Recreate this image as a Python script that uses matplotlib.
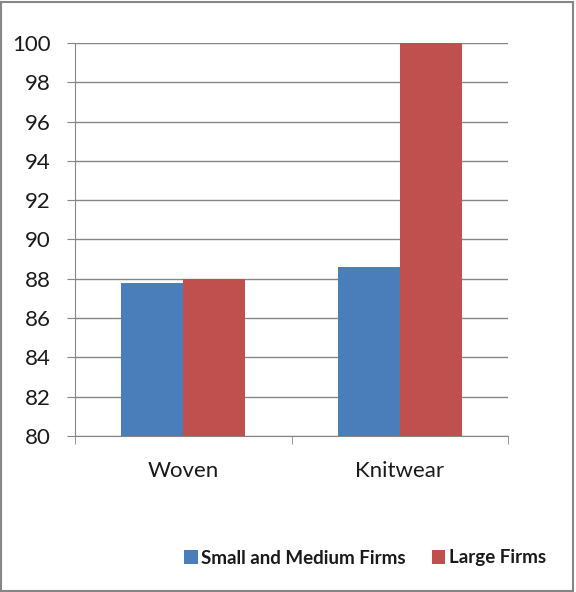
import matplotlib
matplotlib.use("Agg")
import matplotlib.pyplot as plt
import numpy as np

categories = ["Woven", "Knitwear"]
series_names = ["Small and Medium Firms", "Large Firms"]
small_medium = [87.8, 88.6]
large = [88.0, 100.0]
yticks = list(range(80, 101, 2))

colors = ["#4A7EBB", "#C0504D"]

plt.rcParams['font.family'] = ['Lato', 'DejaVu Sans']

fig = plt.figure(figsize=(5.76, 5.92), dpi=100)
W, H = 576, 592
ax = fig.add_axes([75 / W, 1 - 436 / H, (508 - 75) / W, (436 - 43) / H])

x = np.arange(len(categories))
bw = 0.286
ax.bar(x - bw / 2, small_medium, bw, color=colors[0], label=series_names[0], zorder=3)
ax.bar(x + bw / 2, large, bw, color=colors[1], label=series_names[1], zorder=3)

ax.set_xlim(-0.5, 1.5)
ax.set_ylim(80, 100)
ax.set_yticks(yticks)
ax.set_yticklabels([str(v) for v in yticks], fontsize=16, color="#1a1a1a")
ax.yaxis.grid(True, color="#868686", linewidth=1, zorder=0)
ax.set_axisbelow(True)

ax.set_xticks(x)
ax.set_xticklabels(categories, fontsize=16, color="#1a1a1a")
ax.set_xticks([-0.5, 0.5, 1.5], minor=True)
ax.tick_params(axis='x', which='major', length=0, pad=18)
ax.tick_params(axis='x', which='minor', length=5.5, color="#868686", direction='out')
ax.tick_params(axis='y', length=5.5, color="#868686", direction='out', pad=12)

for s in ["top", "right"]:
    ax.spines[s].set_visible(False)
for s in ["left", "bottom"]:
    ax.spines[s].set_color("#868686")

leg = fig.legend(loc="center right", bbox_to_anchor=(563 / W, 1 - 558 / H), ncol=2,
                 frameon=False, prop={'size': 13.5, 'weight': 'bold'},
                 handlelength=0.7, handleheight=0.7,
                 handletextpad=0.2, columnspacing=1.4)
for t in leg.get_texts():
    t.set_color("#1a1a1a")

fig.patches.append(plt.Rectangle((1 / W, 1 / H), 1 - 4 / W, 1 - 2.5 / H,
                                 transform=fig.transFigure, fill=False,
                                 edgecolor="#868686", linewidth=1.5))

fig.savefig("out.png", dpi=100)
